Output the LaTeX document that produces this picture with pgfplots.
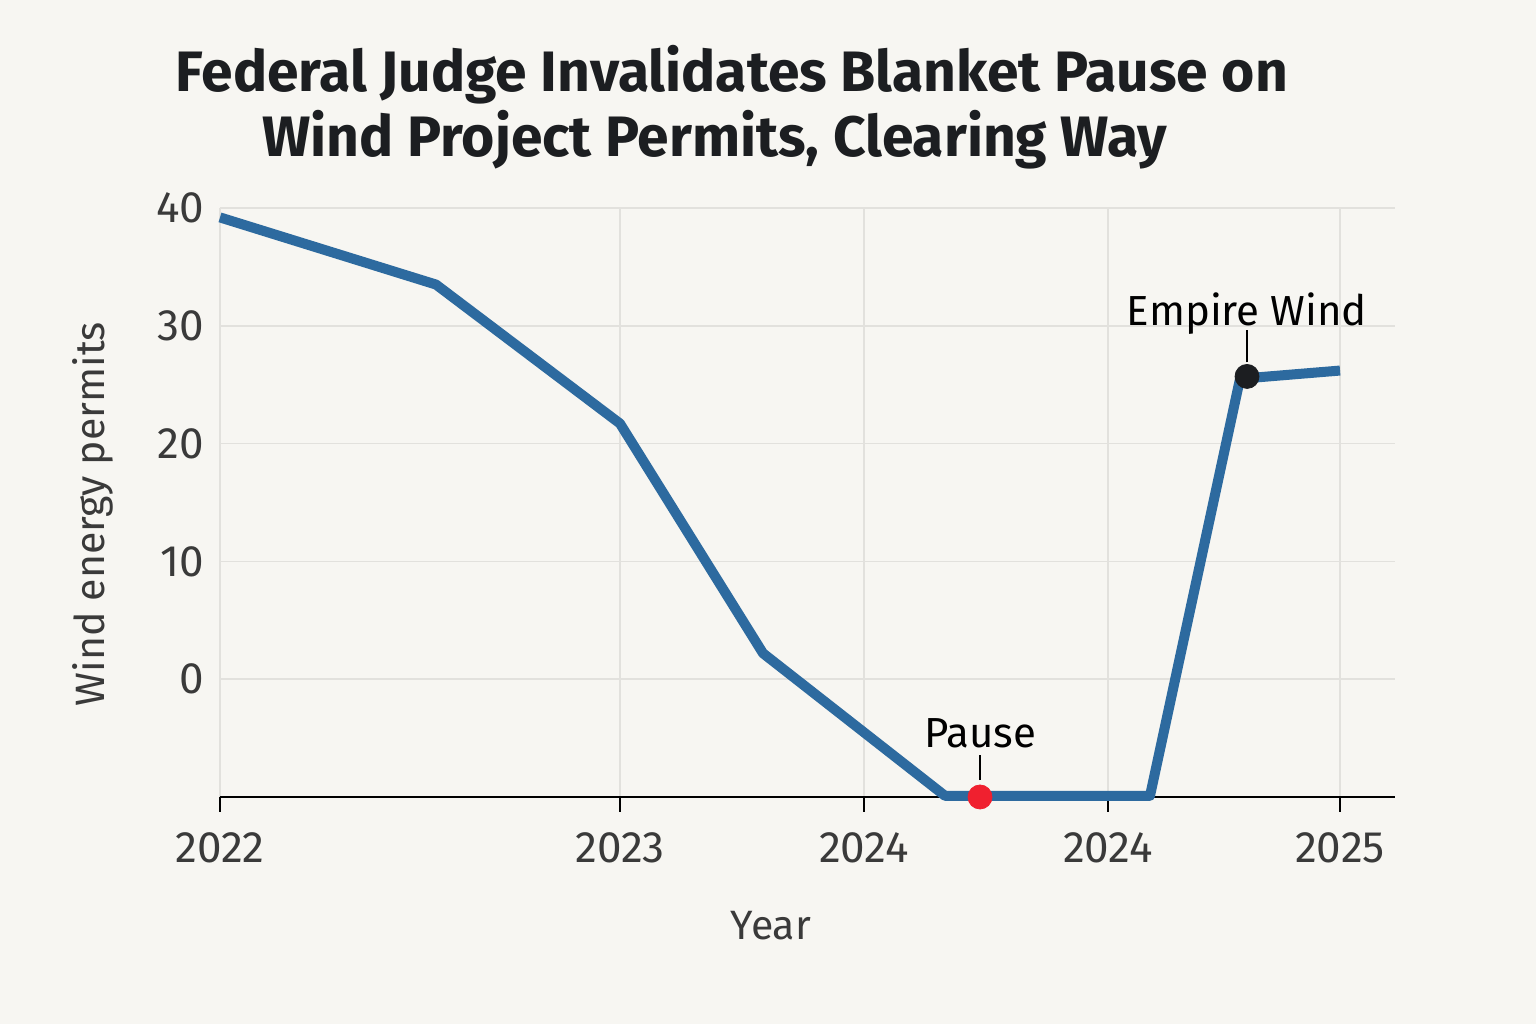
\documentclass[border=0pt]{standalone}
\usepackage{fontspec}
\setmainfont{Fira Sans}
\usepackage{pgfplots}
\pgfplotsset{compat=1.18}
\definecolor{bg}{HTML}{F7F6F2}
\definecolor{lineblue}{HTML}{2D6A9F}
\definecolor{gridc}{HTML}{E2E1DD}
\definecolor{txt}{HTML}{3A3A3A}
\definecolor{ttl}{HTML}{1C1E21}
\definecolor{pausered}{HTML}{F0202F}
\begin{document}
\begin{tikzpicture}[x=1bp,y=1bp]
\fill[bg] (-110,-113.5) rectangle (658,398.5);
\begin{axis}[
  scale only axis, width=587.5bp, height=294.5bp,
  xmin=0, xmax=1175, ymin=-10, ymax=40,
  clip=false,
  axis line style={draw=none},
  xtick={0,400,644,888,1120},
  xticklabels={2022,2023,2024,2024,2025},
  ytick={-10,0,10,20,30,40},
  yticklabels={,0,10,20,30,40},
  xmajorgrids, ymajorgrids,
  major grid style={draw=gridc, line width=0.8bp},
  tick align=outside,
  xtick pos=bottom, ytick pos=left,
  major tick length=7.5bp,
  xtick style={draw=black, line width=0.8bp},
  ytick style={draw=none},
  /pgf/number format/assume math mode=true,
  xticklabel style={font=\fontsize{22bp}{26bp}\selectfont, text=txt, yshift=-7bp},
  yticklabel style={font=\fontsize{22bp}{26bp}\selectfont, text=txt, xshift=3bp},
]
\draw[black, line width=1.2bp] (axis cs:0,-10) -- (axis cs:1175,-10);
\addplot[lineblue, line width=5bp, line join=round] coordinates {
  (0,39.2) (216,33.5) (400,21.7) (543,2.2) (725,-9.9) (930,-9.9) (1020,25.5) (1120,26.2)
};
\draw[black, line width=0.75bp] (axis cs:760,-8.56) -- (axis cs:760,-6.43);
\draw[black, line width=0.75bp] (axis cs:1027,26.9) -- (axis cs:1027,29.6);
\addplot[only marks, mark=*, mark size=6bp, pausered, mark options={draw=pausered, fill=pausered}] coordinates {(760,-10)};
\addplot[only marks, mark=*, mark size=6bp, ttl, mark options={draw=ttl, fill=ttl}] coordinates {(1027,25.7)};
\node[anchor=base, font=\fontsize{21bp}{24bp}\selectfont, text=black] at (axis cs:760,-5.84) {Pause};
\node[anchor=base, font=\fontsize{21bp}{24bp}\selectfont, text=black] at (axis cs:1027,30.05) {Empire Wind};
\end{axis}
\node[anchor=base, font=\fontsize{20.5bp}{24bp}\selectfont, text=txt] at (275.5,-71.5) {Year};
\node[rotate=90, anchor=center, font=\fontsize{20.5bp}{24bp}\selectfont, text=txt] at (-63.5,141.5) {Wind energy permits};
\node[anchor=base, font=\bfseries\fontsize{28.5bp}{32bp}\selectfont, text=ttl] at (256,352.5) {Federal Judge Invalidates Blanket Pause on};
\node[anchor=base, font=\bfseries\fontsize{28.5bp}{32bp}\selectfont, text=ttl] at (247.5,320) {Wind Project Permits, Clearing Way};
\end{tikzpicture}
\end{document}
